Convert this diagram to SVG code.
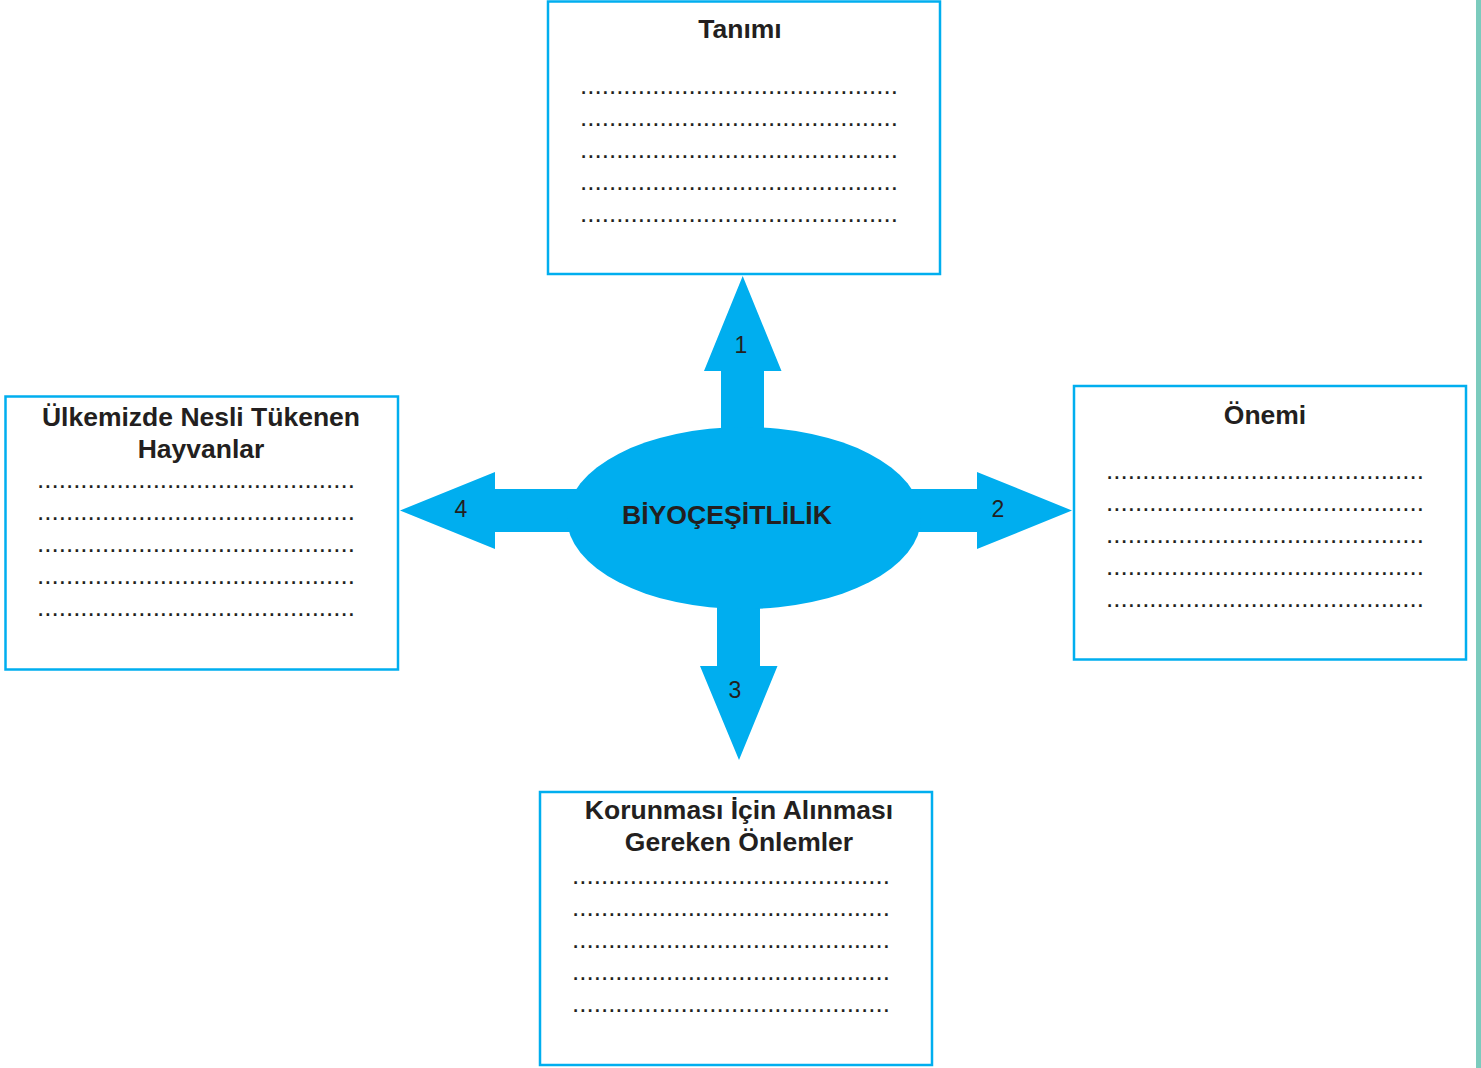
<svg xmlns="http://www.w3.org/2000/svg" width="1481" height="1068" viewBox="0 0 1481 1068">
<style>
.box{fill:#fff;stroke:#00AEEF;stroke-width:2.5}
.title{font-family:"Liberation Sans",Arial,sans-serif;font-weight:bold;font-size:26.5px;fill:#231F20;text-anchor:middle}
.dots{font-family:"Liberation Sans",Arial,sans-serif;font-size:26px;fill:#231F20}
.num{font-family:"Liberation Sans",Arial,sans-serif;font-size:23px;fill:#231F20;text-anchor:middle}
.arrow{fill:#00AEEF}
</style>
<rect x="0" y="0" width="1481" height="1068" fill="#fff"/>
<rect x="1476" y="0" width="5" height="1068" fill="#7BCBBD"/>
<g id="connectors">
<polygon class="arrow" points="721,430 721,371 704,371 742.7,276 781.5,371 764,371 764,430"/>
<polygon class="arrow" points="910,489 977,489 977,472 1072,510.5 977,549 977,532 910,532"/>
<polygon class="arrow" points="760,605 760,666 777.5,666 739,760 700,666 717,666 717,605"/>
<polygon class="arrow" points="578,489 495,489 495,472 400,510.5 495,549 495,532 578,532"/>
<text class="num" x="741" y="353">1</text>
<text class="num" x="998" y="517">2</text>
<text class="num" x="735" y="698">3</text>
<text class="num" x="461" y="517">4</text>
</g>
<g id="center">
<ellipse cx="744" cy="518" rx="177" ry="91" fill="#00AEEF"/>
<text class="title" x="727" y="524" font-size="25" textLength="210" lengthAdjust="spacingAndGlyphs">BİYOÇEŞİTLİLİK</text>
</g>
<g id="tanimi">
<rect class="box" x="548" y="1.5" width="392" height="272.5"/>
<text class="title" x="740" y="38">Tanımı</text>
<text class="dots" x="580" y="94" textLength="318">............................................</text>
<text class="dots" x="580" y="126" textLength="318">............................................</text>
<text class="dots" x="580" y="158" textLength="318">............................................</text>
<text class="dots" x="580" y="190" textLength="318">............................................</text>
<text class="dots" x="580" y="222" textLength="318">............................................</text>
</g>
<g id="onemi">
<rect class="box" x="1074" y="386" width="392" height="273.5"/>
<text class="title" x="1265" y="424">Önemi</text>
<text class="dots" x="1106" y="479" textLength="318">............................................</text>
<text class="dots" x="1106" y="511" textLength="318">............................................</text>
<text class="dots" x="1106" y="543" textLength="318">............................................</text>
<text class="dots" x="1106" y="575" textLength="318">............................................</text>
<text class="dots" x="1106" y="607" textLength="318">............................................</text>
</g>
<g id="korunmasi">
<rect class="box" x="540" y="792" width="392" height="273"/>
<text class="title" x="739" y="819">Korunması İçin Alınması</text>
<text class="title" x="739" y="851">Gereken Önlemler</text>
<text class="dots" x="572" y="884" textLength="318">............................................</text>
<text class="dots" x="572" y="916" textLength="318">............................................</text>
<text class="dots" x="572" y="948" textLength="318">............................................</text>
<text class="dots" x="572" y="980" textLength="318">............................................</text>
<text class="dots" x="572" y="1012" textLength="318">............................................</text>
</g>
<g id="ulkemizde">
<rect class="box" x="5.5" y="396.5" width="392.5" height="273"/>
<text class="title" x="201" y="426">Ülkemizde Nesli Tükenen</text>
<text class="title" x="201" y="458">Hayvanlar</text>
<text class="dots" x="37" y="488" textLength="318">............................................</text>
<text class="dots" x="37" y="520" textLength="318">............................................</text>
<text class="dots" x="37" y="552" textLength="318">............................................</text>
<text class="dots" x="37" y="584" textLength="318">............................................</text>
<text class="dots" x="37" y="616" textLength="318">............................................</text>
</g>
</svg>
